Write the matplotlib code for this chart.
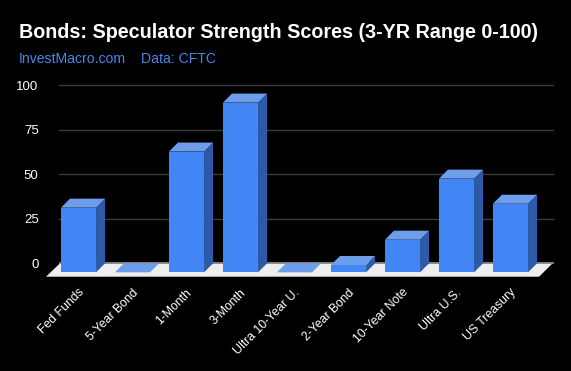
import matplotlib.pyplot as plt
from matplotlib.patches import Polygon, Rectangle

plt.rcParams['font.family'] = ['Liberation Sans', 'DejaVu Sans']

categories = ["Fed Funds", "5-Year Bond", "1-Month", "3-Month", "Ultra 10-Year U.",
              "2-Year Bond", "10-Year Note", "Ultra U.S.", "US Treasury"]
scores = [36.3, 0, 67.8, 95.3, 0, 4.1, 18.3, 52.6, 38.5]
y_ticks = [0, 25, 50, 75, 100]

front_col = "#4285f4"
top_col = "#6d9eeb"
side_col = "#2c5aa8"
sub_col = "#4a86e8"

fig = plt.figure(figsize=(5.71, 3.71), dpi=100, facecolor="black")
ax = fig.add_axes([40 / 571, 86 / 371, 520 / 571, 210 / 371])
ax.set_facecolor("black")
ax.set_xlim(-0.713, 8.917)
ax.set_ylim(-7.13, 110.8)
for s in ax.spines.values():
    s.set_visible(False)

W = 0.325          # half bar width
DX, DY = 0.167, 5.06   # depth of the 3d effect

# back wall gridlines
for k in y_ticks:
    ax.plot([-0.36, 8.79], [k + DY, k + DY], color="#3a3a3a", lw=1, zorder=0)

# floor
ax.add_patch(Polygon([(-0.602, -2.47), (-0.343, DY), (8.78, DY), (8.53, -2.47)],
                     closed=True, facecolor="#eeeeee", edgecolor="none", zorder=1))
ax.plot([-0.343, 8.78], [DY, DY], color="#8a8a8a", lw=1.3, zorder=1)

for i, v in enumerate(scores):
    ax.add_patch(Polygon([(i + W, 0), (i + W + DX, DY), (i + W + DX, v + DY), (i + W, v)],
                         closed=True, facecolor=side_col, edgecolor="none", zorder=2))
    ax.add_patch(Rectangle((i - W, 0), 2 * W, v, facecolor=front_col, edgecolor="none", zorder=2))
    ax.add_patch(Polygon([(i - W, v), (i + W, v), (i + W + DX, v + DY), (i - W + DX, v + DY)],
                         closed=True, facecolor=top_col, edgecolor="none", zorder=2))

ax.set_yticks([k + DY for k in y_ticks], [str(k) for k in y_ticks])
ax.tick_params(axis="y", length=0, pad=1, colors="white", labelsize=9.5)
ax.set_xticks([])

for i, name in enumerate(categories):
    ax.text(i - 0.01, -8.0, name, rotation=45, ha="right", va="top",
            rotation_mode="anchor", color="white", fontsize=8.8, clip_on=False)

fig.text(19 / 571, 1 - 37.7 / 371, "Bonds: Speculator Strength Scores (3-YR Range 0-100)",
         color="white", fontsize=14.25, fontweight="bold", va="baseline")
fig.text(19 / 571, 1 - 62.7 / 371, "InvestMacro.com", color=sub_col, fontsize=10.1, va="baseline")
fig.text(141 / 571, 1 - 62.7 / 371, "Data: CFTC", color=sub_col, fontsize=10.1, va="baseline")

fig.savefig("out.png", dpi=100, facecolor="black")
